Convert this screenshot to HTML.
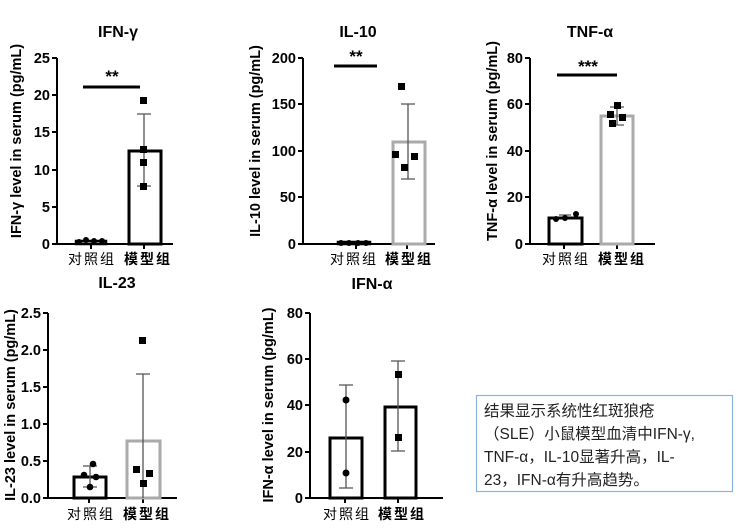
<!DOCTYPE html>
<html><head><meta charset="utf-8"><style>
body{margin:0;background:#fff}
svg{display:block}
text{font-family:"Liberation Sans","Noto Sans CJK SC",sans-serif}
.t{font-weight:bold;font-size:16px;text-anchor:middle}
.tk{font-weight:bold;font-size:14.5px;text-anchor:end}
.yl{font-weight:bold;font-size:14.5px;text-anchor:middle}
.xl{font-size:14px;text-anchor:middle;font-family:"Noto Sans CJK SC",sans-serif;letter-spacing:2px}
.ax{stroke:#000;stroke-width:2;fill:none}
.er{stroke:#555;stroke-width:1.3;fill:none}
</style></head><body>
<svg width="750" height="528" viewBox="0 0 750 528">
<!-- Panel 1 IFN-γ -->
<g>
<text class="t" x="118" y="37">IFN-γ</text>
<text class="yl" transform="translate(21,141) rotate(-90)">IFN-γ level in serum (pg/mL)</text>
<path class="ax" d="M57,58V244H173M52,58H57M52,95H57M52,132H57M52,170H57M52,207H57M52,244H57M91,244V249M144,244V249"/>
<text class="tk" x="50" y="63">25</text><text class="tk" x="50" y="100">20</text><text class="tk" x="50" y="137">15</text><text class="tk" x="50" y="175">10</text><text class="tk" x="50" y="212">5</text><text class="tk" x="50" y="249">0</text>
<rect x="76" y="241" width="30" height="3" fill="none" stroke="#000" stroke-width="2.5"/>
<g fill="#000"><circle cx="79" cy="242" r="3"/><circle cx="86" cy="240" r="3"/><circle cx="94" cy="241" r="3"/><circle cx="102" cy="241" r="3"/></g>
<rect x="129" y="151" width="32" height="93" fill="none" stroke="#000" stroke-width="3"/>
<path class="er" d="M144,114V186M137,114H151M137,186H151"/>
<g fill="#000"><rect x="140" y="97" width="7" height="7"/><rect x="140" y="146" width="7" height="7"/><rect x="140" y="159" width="7" height="7"/><rect x="140" y="183" width="7" height="7"/></g>
<path d="M83,87H140" stroke="#000" stroke-width="3"/>
<text x="112" y="82" font-size="17" font-weight="bold" text-anchor="middle">**</text>
<text class="xl" x="92" y="264">对照组</text><text class="xl" x="148" y="264" font-weight="bold">模型组</text>
</g>
<!-- Panel 2 IL-10 -->
<g>
<text class="t" x="358" y="37">IL-10</text>
<text class="yl" transform="translate(260,141) rotate(-90)">IL-10 level in serum (pg/mL)</text>
<path class="ax" d="M303,58V244H435M298,58H303M298,104H303M298,151H303M298,197H303M298,244H303M356,244V249M407,244V249"/>
<text class="tk" x="296" y="63">200</text><text class="tk" x="296" y="109">150</text><text class="tk" x="296" y="156">100</text><text class="tk" x="296" y="202">50</text><text class="tk" x="296" y="249">0</text>
<rect x="338" y="242" width="32" height="2" fill="none" stroke="#000" stroke-width="2.5"/>
<g fill="#000"><circle cx="341" cy="243" r="3"/><circle cx="349" cy="243" r="3"/><circle cx="358" cy="243" r="3"/><circle cx="366" cy="243" r="3"/></g>
<rect x="393" y="142" width="32" height="102" fill="none" stroke="#aaa" stroke-width="3"/>
<path class="er" d="M408,104V179M401,104H415M401,179H415"/>
<g fill="#000"><rect x="398" y="83" width="7" height="7"/><rect x="392" y="151" width="7" height="7"/><rect x="411" y="153" width="7" height="7"/><rect x="401" y="164" width="7" height="7"/></g>
<path d="M334,66H377" stroke="#000" stroke-width="3"/>
<text x="356" y="62" font-size="17" font-weight="bold" text-anchor="middle">**</text>
<text class="xl" x="354" y="264">对照组</text><text class="xl" x="409" y="264" font-weight="bold">模型组</text>
</g>
<!-- Panel 3 TNF-α -->
<g>
<text class="t" x="590" y="37">TNF-α</text>
<text class="yl" transform="translate(497,141) rotate(-90)">TNF-α level in serum (pg/mL)</text>
<path class="ax" d="M530,58V244H655M525,58H530M525,104H530M525,151H530M525,197H530M525,244H530M564,244V249M617,244V249"/>
<text class="tk" x="523" y="63">80</text><text class="tk" x="523" y="109">60</text><text class="tk" x="523" y="156">40</text><text class="tk" x="523" y="202">20</text><text class="tk" x="523" y="249">0</text>
<rect x="549" y="218" width="33" height="26" fill="none" stroke="#000" stroke-width="3"/>
<path class="er" d="M565,215V221M559,215H571"/>
<g fill="#000"><circle cx="576" cy="214" r="3"/><circle cx="565" cy="218" r="3"/><circle cx="556" cy="219" r="3"/></g>
<rect x="601" y="116" width="32" height="128" fill="none" stroke="#aaa" stroke-width="3"/>
<path class="er" d="M617,107V125M610,107H624M610,125H624"/>
<g fill="#000"><rect x="614" y="102" width="7" height="7"/><rect x="607" y="111" width="7" height="7"/><rect x="619" y="114" width="7" height="7"/><rect x="609" y="120" width="7" height="7"/></g>
<path d="M557,75H617" stroke="#000" stroke-width="3"/>
<text x="588" y="72" font-size="17" font-weight="bold" text-anchor="middle">***</text>
<text class="xl" x="566" y="264">对照组</text><text class="xl" x="622" y="264" font-weight="bold">模型组</text>
</g>
<!-- Panel 4 IL-23 -->
<g>
<text class="t" x="117" y="288">IL-23</text>
<text class="yl" transform="translate(15,405) rotate(-90)">IL-23 level in serum (pg/mL)</text>
<path class="ax" d="M48,313V498H177M43,313H48M43,350H48M43,387H48M43,424H48M43,461H48M43,498H48M89,498V503M143,498V503"/>
<text class="tk" x="41" y="318">2.5</text><text class="tk" x="41" y="355">2.0</text><text class="tk" x="41" y="392">1.5</text><text class="tk" x="41" y="429">1.0</text><text class="tk" x="41" y="466">0.5</text><text class="tk" x="41" y="503">0.0</text>
<rect x="74" y="477" width="32" height="21" fill="none" stroke="#000" stroke-width="3"/>
<path class="er" d="M90,466V487M83,466H97M83,487H97"/>
<g fill="#000"><circle cx="93" cy="464" r="3.3"/><circle cx="84" cy="475" r="3.3"/><circle cx="96" cy="477" r="3.3"/><circle cx="90" cy="487" r="3.3"/></g>
<rect x="127" y="441" width="33" height="57" fill="none" stroke="#aaa" stroke-width="3"/>
<path class="er" d="M143,374V498M136,374H150"/>
<g fill="#000"><rect x="139" y="337" width="7" height="7"/><rect x="133" y="466" width="7" height="7"/><rect x="146" y="470" width="7" height="7"/><rect x="140" y="480" width="7" height="7"/></g>
<text class="xl" x="91" y="519">对照组</text><text class="xl" x="147" y="519" font-weight="bold">模型组</text>
</g>
<!-- Panel 5 IFN-α -->
<g>
<text class="t" x="372" y="289">IFN-α</text>
<text class="yl" transform="translate(273,405) rotate(-90)">IFN-α level in serum (pg/mL)</text>
<path class="ax" d="M310,313V498H443M305,313H310M305,359H310M305,405H310M305,452H310M305,498H310M345,498V503M398,498V503"/>
<text class="tk" x="303" y="318">80</text><text class="tk" x="303" y="364">60</text><text class="tk" x="303" y="410">40</text><text class="tk" x="303" y="457">20</text><text class="tk" x="303" y="503">0</text>
<rect x="330" y="438" width="32" height="60" fill="none" stroke="#000" stroke-width="3"/>
<path class="er" d="M346,385V488M339,385H353M339,488H353"/>
<g fill="#000"><circle cx="346" cy="400" r="3.5"/><circle cx="346" cy="473" r="3.5"/></g>
<rect x="385" y="407" width="31" height="91" fill="none" stroke="#000" stroke-width="3"/>
<path class="er" d="M398,361V451M391,361H405M391,451H405"/>
<g fill="#000"><rect x="395" y="371" width="7" height="7"/><rect x="395" y="434" width="7" height="7"/></g>
<text class="xl" x="347" y="519">对照组</text><text class="xl" x="402" y="519" font-weight="bold">模型组</text>
</g>
<!-- Text box -->
<rect x="476.5" y="395.5" width="256" height="96" fill="#fff" stroke="#8db3e2" stroke-width="1.2"/>
<g font-size="15.5" style="font-family:'Noto Sans CJK SC',sans-serif" fill="#222">
<text x="484" y="416">结果显示系统性红斑狼疮</text>
<text x="484" y="439">（SLE）小鼠模型血清中IFN-γ,</text>
<text x="484" y="462">TNF-α，IL-10显著升高，IL-</text>
<text x="484" y="485">23，IFN-α有升高趋势。</text>
</g>
</svg>
</body></html>
